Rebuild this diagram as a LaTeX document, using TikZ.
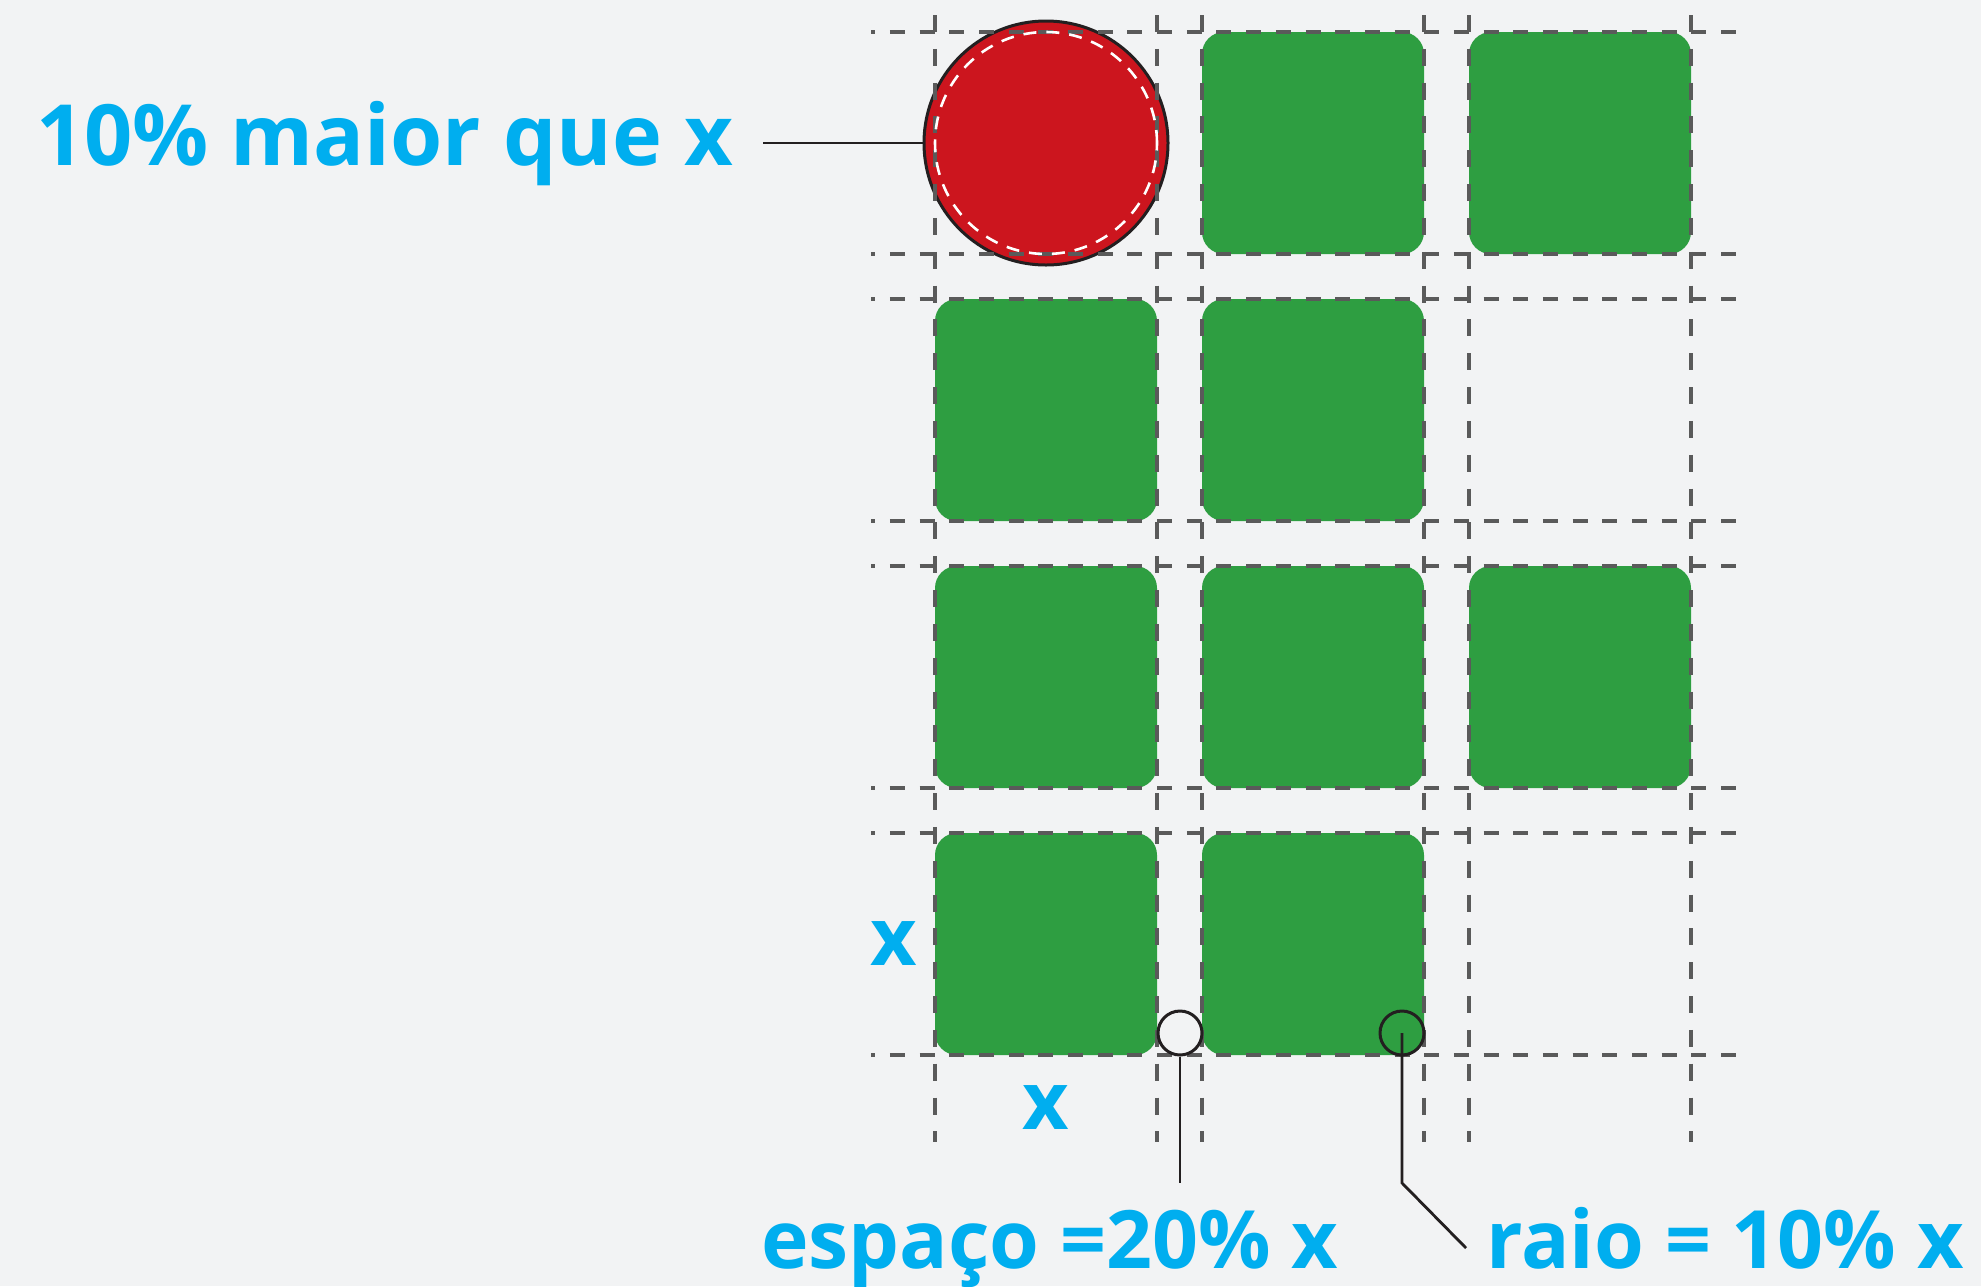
\documentclass[tikz,border=0pt]{standalone}
\usepackage{fontspec}
\setmainfont{Open Sans}
\definecolor{bg}{HTML}{F2F3F4}
\definecolor{boxgreen}{HTML}{2E9E41}
\definecolor{dotred}{HTML}{CC151E}
\definecolor{lblcyan}{HTML}{00AEEF}
\definecolor{gridgray}{HTML}{5A5A5A}
\definecolor{inkblack}{HTML}{231F20}
\begin{document}
\begin{tikzpicture}[x=1pt,y=-1pt,
  greenbox/.style={rectangle, fill=boxgreen, minimum size=222pt, inner sep=0pt, rounded corners=22pt},
  gridv/.style={draw=gridgray, line width=3.2pt, dash pattern=on 17pt off 16.83pt},
  gridh/.style={draw=gridgray, line width=3.2pt, dash pattern=on 15pt off 14.68pt, dash phase=10.7pt},
  biglbl/.style={text=lblcyan, font=\bfseries\fontsize{84.5}{100}\selectfont, inner sep=0pt},
  lbl/.style={text=lblcyan, font=\bfseries\fontsize{80.5}{96}\selectfont, inner sep=0pt},
  marker/.style={circle, draw=inkblack, line width=3pt, minimum size=44pt, inner sep=0pt},
  leader/.style={draw=inkblack, line width=2.8pt}
]
\useasboundingbox (0,0) rectangle (1981,1286);
\fill[bg] (0,0) rectangle (1981,1286);

% green boxes
\node[greenbox] (b12) at (1313,143) {};
\node[greenbox] (b13) at (1580,143) {};
\node[greenbox] (b21) at (1046,410) {};
\node[greenbox] (b22) at (1313,410) {};
\node[greenbox] (b31) at (1046,677) {};
\node[greenbox] (b32) at (1313,677) {};
\node[greenbox] (b33) at (1580,677) {};
\node[greenbox] (b41) at (1046,944) {};
\node[greenbox] (b42) at (1313,944) {};

% red circle
\node[circle, fill=dotred, draw=inkblack, line width=3pt, minimum size=244pt, inner sep=0pt] (big) at (1046,143) {};

% grid
\foreach \gx in {935,1157,1202,1424,1469,1691}
  \draw[gridv] (\gx,15) -- (\gx,1142);
\foreach \gy in {32,254,299,521,566,788,833,1055}
  \draw[gridh] (871,\gy) -- (1736,\gy);

% inner dashed circle
\node[circle, draw=white, line width=2.6pt, dash pattern=on 13pt off 10pt, minimum size=222pt, inner sep=0pt] (inner) at (1046,143) {};

% labels
\node[biglbl, anchor=base west] (t1) at (36,165) {10\% maior que x};
\node[lbl, anchor=base west] (t2) at (761,1268) {espaço =20\% x};
\node[lbl, anchor=base west] (t3) at (1486,1268) {raio = 10\% x};
\node[lbl] (xl) at (894,944) {x};
\node[lbl] (xb) at (1046,1108) {x};

% markers
\node[marker, fill=bg] (s1) at (1180,1033) {};
\node[marker] (s2) at (1402,1033) {};

% leaders
\coordinate (c1) at (763,143);
\draw[leader] (c1) -- (big.west);
\coordinate (e1) at (1180,1183);
\draw[leader] (s1.south) -- (e1);
\coordinate (k2) at (1402,1183);
\coordinate (e2) at (1466,1248);
\draw[leader] (s2.center) -- (k2) -- (e2);
\end{tikzpicture}
\end{document}
